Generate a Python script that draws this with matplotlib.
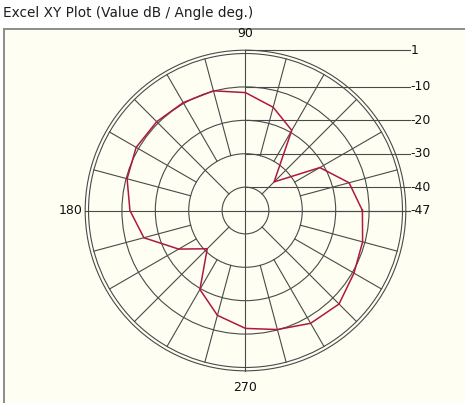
import numpy as np
import matplotlib
matplotlib.use("Agg")
import matplotlib.pyplot as plt
from matplotlib.patches import Circle, Rectangle

# ---------------- data ----------------
angles_deg = [0, 15, 30, 45, 60, 75, 90, 105, 120, 135, 150, 165,
              180, 195, 210, 225, 240, 255, 270, 285, 300, 315, 330, 345]
values_db = [-12.0, -14.9, -21.3, -34.9, -19.3, -15.0, -11.7, -9.9, -9.7, -9.4, -9.2, -10.3,
             -12.4, -15.5, -23.9, -30.8, -19.7, -14.5, -11.7, -10.1, -8.0, -7.4, -9.5, -10.7]
db_min = -47
db_max = 1
ring_db = [-40, -30, -20, -10, 0, 1]
scale_db = [1, -10, -20, -30, -40, -47]
scale_labels = ["1", "-10", "-20", "-30", "-40", "-47"]
axis_angles = [90, 180, 270]
axis_labels = ["90", "180", "270"]
spoke_step = 15
title = "Excel XY Plot (Value dB / Angle deg.)"

# ---------------- layout ----------------
W, H = 465, 403
CX, CY = 245.5, 210.5      # centre in pixels (from top-left)
PX = 3.34                  # pixels per dB
grid_col = "#4a4a4a"
curve_col = "#b0183e"
bg_col = "#fefef3"
lab_fs = 9.0

fig = plt.figure(figsize=(W / 100, H / 100), dpi=100, facecolor="white")

# plot frame (cream area with grey border on top/left only)
frame = Rectangle((4 / W, -0.05), 1.05, 1.05 - 29 / H, transform=fig.transFigure,
                  facecolor=bg_col, edgecolor="#8c8c8c", linewidth=1.4, zorder=0)
fig.add_artist(frame)
fig.text(3 / W, 1 - 13 / H, title, ha="left", va="center", fontsize=9.8,
         family="DejaVu Sans", color="#1e1e1e")

ax = fig.add_axes([0, 0, 1, 1])
ax.set_xlim(-CX / PX, (W - CX) / PX)
ax.set_ylim(-(H - CY) / PX, CY / PX)
ax.axis("off")
ax.patch.set_alpha(0)

def rad(v):
    return v - db_min

# rings
for d in ring_db:
    ax.add_patch(Circle((0, 0), rad(d), fill=False, edgecolor=grid_col, linewidth=0.8))

# spokes
r_outer = rad(0)
for a in range(spoke_step, 360, spoke_step):
    if a % 90 == 0:
        continue
    r_in = rad(-40) if a % 45 == 0 else rad(-30)
    t = np.deg2rad(a)
    ax.plot([r_in * np.cos(t), r_outer * np.cos(t)], [r_in * np.sin(t), r_outer * np.sin(t)],
            color=grid_col, linewidth=0.8)

# main axes
label_x = (410 - CX) / PX
rmax = rad(db_max)
ax.plot([-rmax, label_x], [0, 0], color=grid_col, linewidth=0.8)
ax.plot([0, 0], [-rmax, rmax], color=grid_col, linewidth=0.8)

# scale lines + labels
for d, lab in zip(scale_db, scale_labels):
    y = rad(d)
    ax.plot([0, label_x], [y, y], color=grid_col, linewidth=0.8)
    ax.text(label_x + 0.2, y, lab, ha="left", va="center", fontsize=lab_fs, color="#111111")

# axis angle labels
for a, lab in zip(axis_angles, axis_labels):
    t = np.deg2rad(a)
    off = rmax + 3.0
    if a == 180:
        ax.text(-rmax - 0.8, 0, lab, ha="right", va="center", fontsize=lab_fs, color="#111111")
    else:
        ax.text(off * np.cos(t), off * np.sin(t) * 1.04, lab, ha="center", va="center",
                fontsize=lab_fs, color="#111111")

# curve
th = np.deg2rad(np.array(angles_deg + [angles_deg[0]]))
rr = np.array(values_db + [values_db[0]]) - db_min
ax.plot(rr * np.cos(th), rr * np.sin(th), color=curve_col, linewidth=1.1, zorder=5)

fig.savefig("out.png", dpi=100, facecolor="white")
